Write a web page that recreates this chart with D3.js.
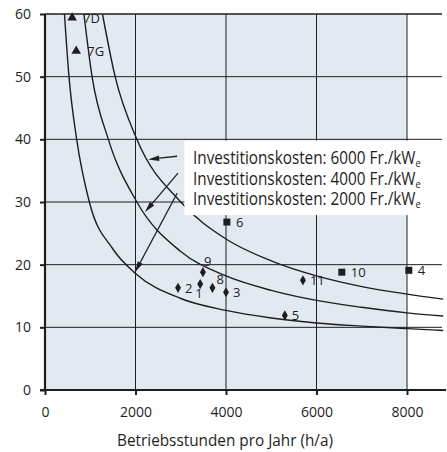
<!DOCTYPE html>
<html>
<head>
<meta charset="utf-8">
<script src="https://cdn.jsdelivr.net/npm/d3@7"></script>
<style>
  body { margin: 0; background: #fff; }
  svg { display: block; font-family: 'Open Sans', sans-serif; }
</style>
</head>
<body>
<div id="chart"></div>
<script>
// curves: [hours per year, cost]
const curve2000 = [[430, 60], [530, 50], [700, 40], [980, 30], [1500, 22.5], [2000, 18.6], [3000, 14.6],
  [4000, 12.7], [5000, 11.5], [6000, 10.7], [7000, 10.2], [8000, 9.8], [8800, 9.5]];
const curve4000 = [[860, 60], [1040, 50], [1400, 40], [2030, 30], [3000, 22.1], [4000, 18.2], [5000, 15.9],
  [6000, 14.3], [7000, 13.2], [8000, 12.3], [8800, 11.8]];
const curve6000 = [[1270, 60], [1550, 50], [2030, 40], [3000, 30], [4000, 24.1], [5000, 20.6], [6000, 18.2],
  [7000, 16.5], [8000, 15.3], [8800, 14.5]];

const triangles = [
  { label: '7D', h: 600, v: 59.4 },
  { label: '7G', h: 690, v: 54.1 }
];
const squares = [
  { label: '6', h: 4020, v: 26.8 },
  { label: '10', h: 6560, v: 18.8 },
  { label: '4', h: 8040, v: 19.1 }
];
const diamonds = [
  { label: '1', h: 3430, v: 16.9, pos: 'below' },
  { label: '2', h: 2940, v: 16.3, pos: 'right' },
  { label: '3', h: 4000, v: 15.6, pos: 'right' },
  { label: '5', h: 5300, v: 11.9, pos: 'right' },
  { label: '8', h: 3700, v: 16.3, pos: 'upright' },
  { label: '9', h: 3490, v: 18.8, pos: 'above' },
  { label: '11', h: 5700, v: 17.5, pos: 'right' }
];

const legendLabels = ['Investitionskosten: 6000 Fr./kW', 'Investitionskosten: 4000 Fr./kW', 'Investitionskosten: 2000 Fr./kW'];
// arrows from the legend to the curves: [from, to] in data units
const arrows = [
  [[2920, 37.3], [2280, 36.8]],
  [[2940, 34.6], [2210, 28.4]],
  [[2920, 31.4], [1990, 18.8]]
];

const xTicks = [0, 2000, 4000, 6000, 8000];
const yTicks = [0, 10, 20, 30, 40, 50, 60];
const xTitle = 'Betriebsstunden pro Jahr (h/a)';

const width = 447, height = 452;
const margin = { top: 14, left: 45 };
const plotRight = 407, plotBottom = 390, gridRight = 442;
const ink = '#1e1e1e';

const svg = d3.select('#chart').append('svg')
  .attr('width', width)
  .attr('height', height);

const x = d3.scaleLinear().domain([0, 8000]).range([margin.left, plotRight]);
const y = d3.scaleLinear().domain([0, 60]).range([plotBottom, margin.top]);

// shaded plot area
svg.append('rect')
  .attr('x', x(0)).attr('y', y(60))
  .attr('width', x(8000) - x(0)).attr('height', y(0) - y(60))
  .attr('fill', '#e2e9f1');

// grid
svg.append('g').selectAll('line')
  .data(yTicks.filter(d => d > 0))
  .enter().append('line')
  .attr('x1', x(0)).attr('x2', gridRight)
  .attr('y1', d => y(d)).attr('y2', d => y(d))
  .attr('stroke', ink).attr('stroke-width', d => d === 60 ? 1.5 : 1);

svg.append('g').selectAll('line')
  .data(xTicks.filter(d => d > 0))
  .enter().append('line')
  .attr('x1', d => x(d)).attr('x2', d => x(d))
  .attr('y1', y(60)).attr('y2', y(0))
  .attr('stroke', ink).attr('stroke-width', 1);

// cost curves
const line = d3.line()
  .x(d => x(d[0]))
  .y(d => y(d[1]))
  .curve(d3.curveMonotoneX);

svg.append('g').selectAll('path')
  .data([curve2000, curve4000, curve6000])
  .enter().append('path')
  .attr('d', line)
  .attr('fill', 'none')
  .attr('stroke', ink)
  .attr('stroke-width', 1.4);

// legend box covers the curves beneath it
const legendBox = { x0: 3080, x1: 8880, v0: 39.8, v1: 27.9 };
svg.append('rect')
  .attr('x', x(legendBox.x0)).attr('y', y(legendBox.v0))
  .attr('width', x(legendBox.x1) - x(legendBox.x0))
  .attr('height', y(legendBox.v1) - y(legendBox.v0))
  .attr('fill', '#fff');

const legend = svg.append('g');
legendLabels.forEach((t, i) => {
  const txt = legend.append('text')
    .attr('x', 0).attr('y', 0)
    .attr('font-size', 18)
    .attr('fill', ink);
  txt.append('tspan').text(t);
  txt.append('tspan').attr('font-size', 11).attr('dy', 3).text('e');
  const w = txt.node().getComputedTextLength();
  const sx = 228 / w;
  txt.attr('transform', `translate(193, ${164 + i * 20.5}) scale(${sx}, 1)`);
});

// arrows
const arrowG = svg.append('g');
arrows.forEach(([from, to]) => {
  const x1 = x(from[0]), y1 = y(from[1]), x2 = x(to[0]), y2 = y(to[1]);
  const ang = Math.atan2(y2 - y1, x2 - x1);
  const len = 11, half = 2.8;
  const bx = x2 - len * Math.cos(ang), by = y2 - len * Math.sin(ang);
  arrowG.append('line')
    .attr('x1', x1).attr('y1', y1).attr('x2', bx).attr('y2', by)
    .attr('stroke', ink).attr('stroke-width', 1.3);
  const pts = [
    [x2, y2],
    [bx + half * Math.sin(ang), by - half * Math.cos(ang)],
    [bx - half * Math.sin(ang), by + half * Math.cos(ang)]
  ];
  arrowG.append('path')
    .attr('d', 'M' + pts.map(p => p.join(',')).join('L') + 'Z')
    .attr('fill', ink);
});

// markers
const marks = svg.append('g').attr('fill', ink);
marks.selectAll('.tri')
  .data(triangles).enter().append('path')
  .attr('class', 'tri')
  .attr('d', d3.symbol().type(d3.symbolTriangle).size(40))
  .attr('transform', d => `translate(${x(d.h)},${y(d.v)})`);
marks.selectAll('.sq')
  .data(squares).enter().append('rect')
  .attr('class', 'sq')
  .attr('x', d => x(d.h) - 3.5).attr('y', d => y(d.v) - 3.5)
  .attr('width', 7).attr('height', 7);
marks.selectAll('.dia')
  .data(diamonds).enter().append('path')
  .attr('class', 'dia')
  .attr('d', d3.symbol().type(d3.symbolDiamond).size(30))
  .attr('transform', d => `translate(${x(d.h)},${y(d.v)})`);

const labels = svg.append('g').attr('font-size', 13).attr('fill', ink);
labels.selectAll('.tl')
  .data(triangles).enter().append('text')
  .attr('x', d => x(d.h) + 11).attr('y', d => y(d.v) + 5)
  .text(d => d.label);
labels.selectAll('.sl')
  .data(squares).enter().append('text')
  .attr('x', d => x(d.h) + 9).attr('y', d => y(d.v) + 5)
  .text(d => d.label);
const off = { right: [7, 5], below: [-5, 14], upright: [4, -4], above: [1, -6] };
labels.selectAll('.dl')
  .data(diamonds).enter().append('text')
  .attr('x', d => x(d.h) + off[d.pos][0]).attr('y', d => y(d.v) + off[d.pos][1])
  .text(d => d.label);

// axes
const yAxis = d3.axisLeft(y).tickValues(yTicks).tickSize(5).tickPadding(9).tickFormat(d3.format('d'));
const gy = svg.append('g').attr('transform', `translate(${x(0)},0)`).call(yAxis);
gy.select('.domain').attr('stroke', ink).attr('stroke-width', 2.2).attr('d', `M0,${y(60)}V${y(0)}`);
gy.selectAll('.tick line').attr('stroke', ink).attr('stroke-width', 2);
gy.selectAll('.tick text').attr('font-size', 14).attr('font-family', 'Open Sans').attr('fill', ink);

const xAxis = d3.axisBottom(x).tickValues(xTicks).tickSize(5).tickPadding(12).tickFormat(d3.format('d'));
const gx = svg.append('g').attr('transform', `translate(0,${y(0)})`).call(xAxis);
gx.select('.domain').attr('stroke', ink).attr('stroke-width', 2.2).attr('d', `M${x(0) - 5},0H${gridRight + 4}`);
gx.selectAll('.tick line').attr('stroke', ink).attr('stroke-width', 2);
gx.selectAll('.tick text').attr('font-size', 14).attr('font-family', 'Open Sans').attr('fill', ink);

const title = svg.append('text')
  .attr('font-size', 16)
  .attr('fill', ink)
  .attr('text-anchor', 'middle')
  .text(xTitle);
const tw = title.node().getComputedTextLength();
title.attr('transform', `translate(225, 446) scale(${216 / tw}, 1)`);
</script>
</body>
</html>
